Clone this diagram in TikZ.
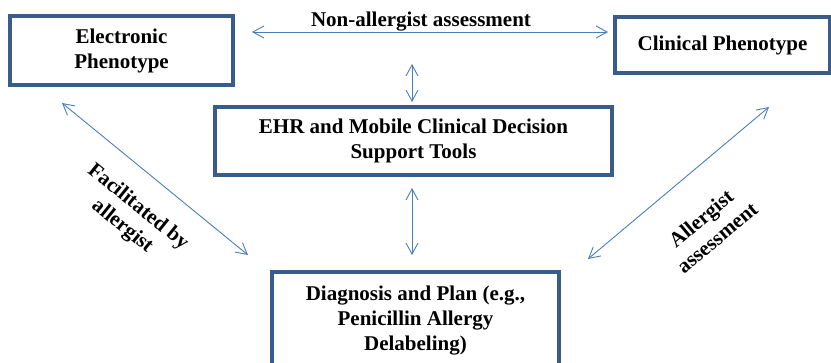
\documentclass[tikz,border=0pt]{standalone}
\usepackage{fontspec}
\setmainfont{Liberation Serif}
\usetikzlibrary{arrows.meta}
\definecolor{boxblue}{RGB}{56,93,138}
\definecolor{linkblue}{RGB}{74,126,187}

\begin{document}
\begin{tikzpicture}[x=1pt,y=-1pt,
  font=\fontsize{21}{25}\selectfont\bfseries,
  box/.style={draw=boxblue,line width=3.2pt,align=center,inner sep=0pt},
  lbl/.style={align=center,inner sep=0pt},
  link/.style={draw=linkblue,line width=0.9pt,
    {Straight Barb[length=11pt,width=12pt]}-{Straight Barb[length=11pt,width=12pt]}}]
\useasboundingbox (0,0) rectangle (831,362);

\node[box,minimum width=223pt,minimum height=69pt] (ephen) at (121.5,50.5) {Electronic\\Phenotype};
\node[box,minimum width=215pt,minimum height=56pt] (cphen) at (722.5,45) {Clinical Phenotype};
\node[box,minimum width=397pt,minimum height=68pt] (ehr) at (413.5,141) {EHR and Mobile Clinical Decision\\Support Tools};
\node[box,minimum width=287pt,minimum height=98pt] (diag) at (415.5,321) {Diagnosis and Plan (e.g.,\\Penicillin Allergy\\Delabeling)};

\node[lbl] (nonlbl) at (421,22) {Non-allergist assessment};
\node[lbl,rotate=-39] (faclbl) at (130,217) {Facilitated by\\allergist};
\node[lbl,rotate=40] (alglbl) at (709,228) {Allergist\\assessment};

\coordinate (A) at (252,32);
\coordinate (B) at (608,32);
\coordinate (C) at (412,64);
\coordinate (D) at (412,102);
\coordinate (E) at (412,188);
\coordinate (F) at (412,255);
\coordinate (G) at (62,103);
\coordinate (H) at (248,255);
\coordinate (I) at (769,107);
\coordinate (J) at (588,259);

\draw[link] (A) -- (B);
\draw[link] (C) -- (D);
\draw[link] (E) -- (F);
\draw[link] (G) -- (H);
\draw[link] (I) -- (J);

\end{tikzpicture}
\end{document}
